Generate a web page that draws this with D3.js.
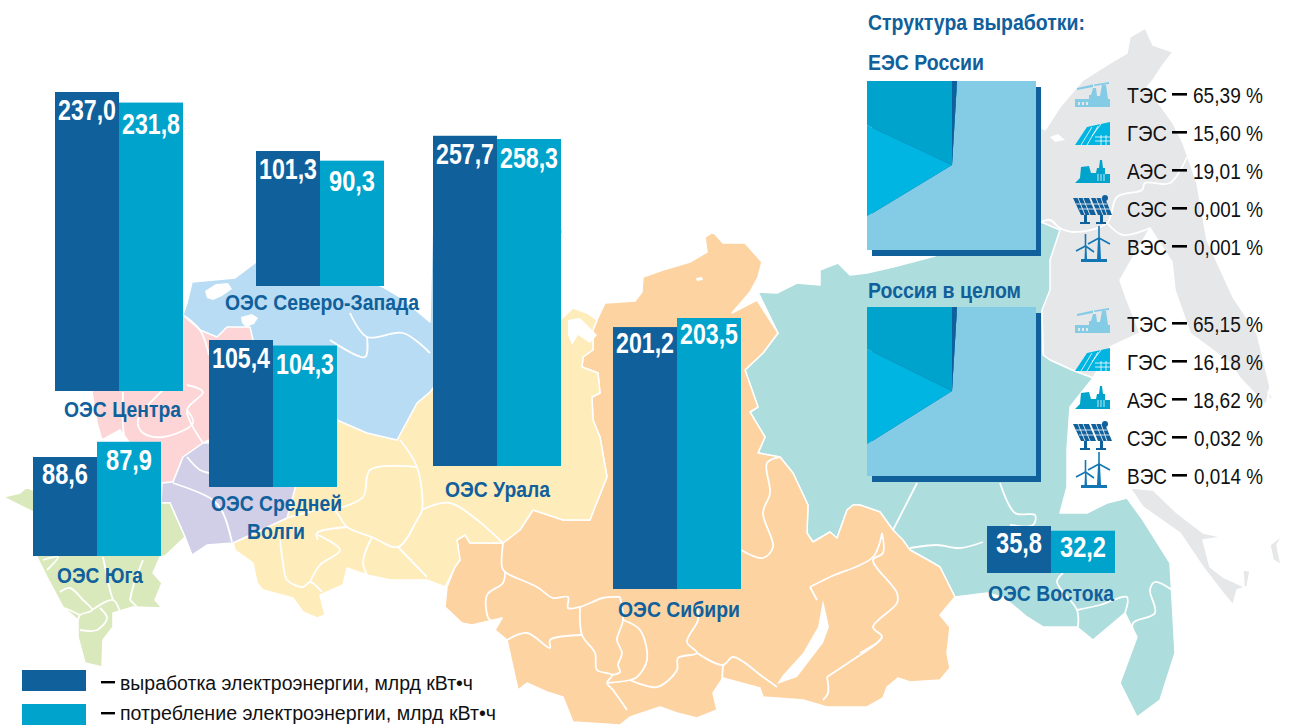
<!DOCTYPE html>
<html lang="ru">
<head>
<meta charset="utf-8">
<title>ОЭС России</title>
<script src="https://cdn.jsdelivr.net/npm/d3@7/dist/d3.min.js"></script>
<style>
  html, body { margin: 0; background: #fff; }
  svg { display: block; }
  text { font-family: "Liberation Sans", Arial, sans-serif; }
</style>
</head>
<body>
<div id="chart"></div>
<script>
// -- data ---------------------------------------------------------------
const regions     = ['ОЭС Центра', 'ОЭС Северо-Запада', 'ОЭС Средней Волги', 'ОЭС Урала', 'ОЭС Сибири', 'ОЭС Юга', 'ОЭС Востока'];
const generation  = [237.0, 101.3, 105.4, 257.7, 201.2, 88.6, 35.8];
const consumption = [231.8, 90.3, 104.3, 258.3, 203.5, 87.9, 32.2];

const plants      = ['ТЭС', 'ГЭС', 'АЭС', 'СЭС', 'ВЭС'];
const shareUES    = [65.39, 15.60, 19.01, 0.001, 0.001];
const shareRussia = [65.15, 16.18, 18.62, 0.032, 0.014];
const shareUESLabels    = ['65,39', '15,60', '19,01', '0,001', '0,001'];
const shareRussiaLabels = ['65,15', '16,18', '18,62', '0,032', '0,014'];

const seriesNames = ['выработка электроэнергии, млрд кВт•ч', 'потребление электроэнергии, млрд кВт•ч'];

// -- layout -------------------------------------------------------------
// Each bar pair sits on the map with its own baseline and scale. The drawn
// bars in the source are not strictly to scale, nudge = px added to the top.
const pairLayout = [
  { x: 55,  base: 391, top: 92,  nudge: [0, 4],   labelDy: [0, 3] },
  { x: 256, base: 286, top: 151, nudge: [0, -5],  labelDy: [0, 2] },
  { x: 209, base: 487, top: 340, nudge: [0, 4],   labelDy: [0, 0] },
  { x: 433, base: 466, top: 135, nudge: [0, 4],   labelDy: [0, 1] },
  { x: 613, base: 589, top: 318, nudge: [6, 0],   labelDy: [-2, -2] },
  { x: 33,  base: 556, top: 457, nudge: [0, -16], labelDy: [-1, 0] },
  { x: 987, base: 573, top: 526, nudge: [0, 0],   labelDy: [-1, -2] }
];
const barWidth = 64;

const regionLabels = [
  { lines: ['ОЭС Центра'], x: 64, y: 417, w: 117 },
  { lines: ['ОЭС Северо-Запада'], x: 225, y: 310, w: 194 },
  { lines: ['ОЭС Средней', 'Волги'], x: 211, y: 511, w: 131, w2: 58, x2: 247 },
  { lines: ['ОЭС Урала'], x: 445, y: 497, w: 105 },
  { lines: ['ОЭС Сибири'], x: 618, y: 617, w: 122 },
  { lines: ['ОЭС Юга'], x: 57, y: 583, w: 86 },
  { lines: ['ОЭС Востока'], x: 988, y: 601, w: 126 }
];

const colors = { gen: '#10609c', con: '#00a3cb' };
const sliceColors = ['#84cbe6', '#00b5e2', '#00a3cb', '#10609c', '#10609c'];
const iconColors  = ['#84cbe6', '#00b5e2', '#00a3cb', '#10609c', '#1276b5'];

// -- background map, traced by hand (decoration, not data) ---------------
const mapShapes = [
  { fill: '#e6e7e9', pts: [[1130,37],[1145,28],[1153,45],[1173,52],[1163,65],[1153,80],[1147,87],[1173,123],[1183,143],[1197,183],[1207,240],[1233,297],[1257,333],[1270,387],[1266,405],[1240,378],[1230,363],[1190,333],[1175,290],[1172,262],[1150,228],[1120,280],[1125,295],[1140,333],[1110,347],[1093,378],[1072,370],[1050,360],[1043,355],[1042,310],[1030,250],[1030,120],[1045,130],[1060,107],[1083,80],[1110,63],[1127,53]] },
  { fill: '#e6e7e9', pts: [[1130,488],[1153,490],[1177,513],[1203,533],[1222,537],[1203,540],[1210,567],[1223,577],[1245,587],[1237,590],[1233,605],[1223,593],[1203,567],[1180,533],[1143,507]] },
  { fill: '#e6e7e9', pts: [[1283,535],[1277,545],[1281,565],[1273,560],[1270,545]] },
  { fill: '#e6e7e9', pts: [[1243,570],[1250,571],[1247,587],[1244,587]] },
  { fill: '#e6e7e9', pts: [[1268,392],[1272,396],[1270,402]] },
  { fill: '#aedddd', pts: [[758,292],[777,293],[797,283],[820,285],[820,270],[838,263],[850,275],[867,273],[893,267],[935,256],[1000,200],[1041,222],[1060,230],[1050,260],[1050,290],[1042,310],[1043,355],[1050,360],[1072,370],[1093,378],[1070,407],[1067,450],[1067,487],[1060,513],[1087,513],[1107,503],[1127,498],[1143,520],[1170,563],[1175,653],[1160,700],[1137,717],[1120,683],[1137,637],[1125,613],[1093,640],[1077,627],[1043,627],[1027,617],[1003,597],[987,593],[955,597],[940,567],[928,560],[910,550],[893,530],[880,512],[860,505],[853,505],[847,510],[837,538],[830,532],[813,542],[807,533],[808,505],[793,473],[780,457],[758,453],[765,437],[750,412],[758,407],[745,370],[763,353],[778,333]] },
  { fill: '#fdd3a2', pts: [[605,303],[635,301],[642,292],[643,277],[663,270],[690,262],[707,252],[705,237],[713,232],[723,243],[745,243],[762,262],[758,277],[750,292],[732,313],[757,300],[778,333],[763,353],[745,370],[758,407],[750,412],[765,437],[758,453],[780,457],[793,473],[808,505],[807,533],[813,542],[830,532],[837,538],[847,510],[853,505],[860,505],[880,512],[893,530],[903,540],[910,550],[928,560],[940,567],[955,597],[940,615],[950,627],[947,653],[950,668],[940,680],[910,682],[898,678],[887,687],[883,698],[867,707],[827,707],[803,700],[763,697],[760,688],[723,678],[713,693],[717,710],[697,718],[677,713],[660,707],[630,717],[620,725],[573,722],[563,697],[547,692],[527,683],[518,690],[507,640],[495,630],[502,618],[472,625],[462,623],[445,607],[447,587],[455,567],[460,560],[457,540],[465,535],[470,543],[503,543],[520,530],[533,510],[563,520],[590,520],[595,507],[607,477],[600,437],[593,420],[592,397],[600,393],[598,373],[582,367],[583,357],[593,350],[593,330],[597,320]] },
  { fill: '#feecbb', pts: [[233,543],[235,550],[253,563],[257,583],[263,590],[293,598],[303,612],[317,618],[325,615],[320,595],[343,585],[347,568],[367,575],[390,580],[427,580],[445,587],[455,567],[460,560],[457,540],[465,535],[470,543],[503,543],[520,530],[533,510],[563,520],[590,520],[595,507],[607,477],[600,437],[593,420],[592,397],[600,393],[598,373],[582,367],[583,357],[593,350],[593,330],[597,320],[587,313],[573,308],[560,320],[500,300],[430,392],[417,403],[397,440],[367,433],[337,420],[300,470],[287,518]] },
  { fill: '#b8dcf3', pts: [[187,303],[192,282],[235,278],[256,262],[320,262],[383,287],[400,297],[430,322],[433,200],[558,215],[563,232],[540,280],[500,300],[430,392],[417,403],[397,440],[367,433],[337,420],[300,400],[209,355],[200,330],[183,315]] },
  { fill: '#fdd5d6', pts: [[183,315],[200,330],[217,337],[227,327],[250,327],[253,340],[300,400],[290,440],[209,440],[203,443],[183,457],[173,482],[162,483],[150,470],[120,430],[102,440],[97,423],[92,392],[100,340]] },
  { fill: '#d1cfe8', pts: [[162,483],[173,482],[183,457],[203,443],[290,440],[300,470],[287,518],[233,543],[207,545],[192,555],[185,537],[170,503],[161,503]] },
  { fill: '#dae9bc', pts: [[100,500],[161,503],[170,503],[185,537],[165,556],[160,557],[153,573],[162,583],[155,600],[162,608],[133,607],[113,613],[113,627],[103,640],[102,667],[85,663],[78,637],[78,620],[63,607],[47,577],[37,557],[33,512],[3,497],[20,493],[27,487],[8,480],[33,490]] }
];

const mapHoles = [
  [[823,600],[829,627],[823,643],[797,677],[777,684],[783,675],[803,653],[818,627]],
  [[568,320],[580,318],[597,335],[590,343],[578,335],[572,345],[568,335]],
  [[1050,137],[1058,134],[1065,140],[1055,142]],
  [[696,278],[702,277],[703,280],[697,281]],
  [[205,291],[216,284],[228,283],[232,289],[222,296],[213,300],[207,298]],
  [[241,317],[252,314],[258,318],[254,324],[246,327],[242,323]]
];

const mapBorders = [
  [[280,540],[283,563],[287,580],[303,587],[310,582],[322,592]],
  [[318,535],[340,550],[320,565],[310,582]],
  [[372,537],[363,562],[368,577]],
  [[398,547],[427,577]],
  [[400,440],[417,467],[422,510],[417,520],[398,547],[372,537],[347,527],[333,510],[287,518]],
  [[417,467],[370,470],[363,497],[333,510]],
  [[422,510],[450,503],[503,543]],
  [[347,527],[317,533],[318,540]],
  [[503,543],[502,567],[505,572],[537,587],[553,598],[568,597],[568,608],[580,607],[603,598],[620,597]],
  [[505,572],[503,583],[487,595],[490,620],[502,618]],
  [[580,607],[582,635],[595,653],[597,670],[612,675],[607,683],[613,690],[627,710]],
  [[582,635],[550,640],[550,648],[527,633],[507,640]],
  [[620,597],[623,620],[617,640],[622,653],[618,665],[620,672],[612,675]],
  [[623,620],[640,630],[647,660],[637,677],[630,680],[607,683]],
  [[630,680],[657,687],[677,670],[678,658],[697,653],[687,642],[698,620],[697,607]],
  [[697,653],[723,665],[733,657],[763,677],[777,687]],
  [[723,665],[722,680]],
  [[810,587],[830,577],[873,557],[882,533]],
  [[810,587],[817,600]],
  [[827,677],[857,657],[877,643],[882,637]],
  [[827,677],[828,693],[823,700]],
  [[741,550],[763,558],[773,547],[763,513],[770,493],[767,463],[780,457]],
  [[882,533],[883,553],[873,560],[897,593],[897,603],[873,627],[882,637],[860,653]],
  [[917,483],[893,530]],
  [[1000,483],[1015,513],[1035,515],[1033,525],[1010,525]],
  [[910,548],[937,545],[960,548],[983,542]],
  [[1063,573],[1057,582],[1077,610],[1078,627]],
  [[1077,610],[1100,605],[1127,597],[1125,613]],
  [[1172,590],[1155,582],[1150,590],[1155,613],[1133,623],[1135,637]],
  [[1041,222],[1050,220],[1060,228],[1073,232],[1107,223],[1117,197],[1142,190],[1145,183],[1170,183],[1187,157]],
  [[1107,223],[1123,235],[1150,228]],
  [[350,313],[367,337],[403,333],[430,353]],
  [[367,337],[365,357],[330,340]],
  [[183,315],[200,330],[209,355]],
  [[187,385],[203,392],[187,410],[203,443]],
  [[163,390],[138,420],[143,433],[163,437],[193,423],[187,410]],
  [[123,392],[123,427],[125,440]],
  [[173,483],[213,500],[223,513],[232,542]],
  [[187,457],[200,470],[209,473]],
  [[43,560],[58,557],[47,570]],
  [[60,592],[70,588],[83,600],[92,610],[80,615],[78,620]],
  [[65,608],[80,615]],
  [[92,610],[113,600],[120,612]],
  [[100,608],[107,618],[97,630],[80,630]],
  [[103,557],[110,590],[113,600]],
  [[130,600],[133,587],[143,560]],
  [[130,600],[137,607]]
];

// -- icons: local 36x36-ish paths per plant type -------------------------
const iconPaths = [
  // ТЭС
  { at: [1075, 82], fill: 'M0 17H14V13H16L18 6H21L22 14H25L27 3H31L33 17H35V25H0Z M2 6L18 2.5V5L2 8Z M19 2.5L34 0V2L19 4Z M3 20V23H5V20Z M7 20V23H9V20Z M11 20V23H13V20Z',
    white: [] },
  // ГЭС
  { at: [1075, 122], fill: 'M0 23L12 5L35 0V23Z',
    white: ['M6 23L17 5', 'M12 23L23 4', 'M17 14L26 2', 'M20 15H35', 'M20 19H35', 'M26 13V23', 'M31 13V23'] },
  // АЭС
  { at: [1075, 160], fill: 'M0 23L5 18L6 7L14 6L16 13H21L22 8H24L25 0H27L28 8H30V14H35V23Z',
    white: ['M23 14V21', 'M26 14V21', 'M29 14V21'] },
  // СЭС
  { at: [1073, 195], fill: 'M0 3H16L23 20H8Z M18 3H32L39 20H25Z M11 20H14V27H11Z M27 20H30V27H27Z M7 27H17V29H7Z M23 27H33V29H23Z',
    white: ['M5 3L12 20', 'M10 3L17 20', 'M3 9H19', 'M6 14H21', 'M23 3L30 20', 'M28 3L34 20', 'M20 9H34', 'M22 14H37'],
    sun: [32, 3, 3] },
  // ВЭС
  { at: [1075, 226], fill: 'M6 36H32V33H26L25 13L23 13L22 33H12L11.5 21H10L9.5 33H6Z',
    blades: [[24, 12, [[24, 0], [35, 18], [13, 18]]], [10.5, 20, [[10.5, 8], [19, 26], [1, 25]]]] }
];

// -- drawing ------------------------------------------------------------
const svg = d3.select('#chart').append('svg').attr('width', 1292).attr('height', 725);
const closedLine = d3.line().curve(d3.curveLinearClosed);
const openLine = d3.line().curve(d3.curveCatmullRom.alpha(0.5));

const mapG = svg.append('g');
mapG.selectAll('path.region').data(mapShapes).join('path')
  .attr('class', 'region')
  .attr('d', d => closedLine(d.pts))
  .attr('fill', d => d.fill)
  .attr('stroke', '#fff').attr('stroke-width', 1.5).attr('stroke-linejoin', 'round');
mapG.selectAll('path.hole').data(mapHoles).join('path')
  .attr('class', 'hole').attr('d', closedLine).attr('fill', '#fff');
mapG.selectAll('path.border').data(mapBorders).join('path')
  .attr('class', 'border').attr('d', openLine)
  .attr('fill', 'none').attr('stroke', '#fff').attr('stroke-width', 1.8);

// bars
const pairs = regions.map((name, i) => ({ name, gen: generation[i], con: consumption[i], ...pairLayout[i] }));
const fmt = v => v.toFixed(1).replace('.', ',');

const pairG = svg.selectAll('g.pair').data(pairs).join('g').attr('class', 'pair');
pairG.each(function (d) {
  const g = d3.select(this);
  const y = d3.scaleLinear().domain([0, Math.max(d.gen, d.con)]).range([d.base, d.top]);
  const xBand = d3.scaleBand().domain(['gen', 'con']).range([d.x, d.x + barWidth * 2]);
  const bars = [
    { key: 'gen', v: d.gen, nudge: d.nudge[0], dy: d.labelDy[0] },
    { key: 'con', v: d.con, nudge: d.nudge[1], dy: d.labelDy[1] }
  ];
  g.selectAll('rect').data(bars).join('rect')
    .attr('x', b => xBand(b.key))
    .attr('width', xBand.bandwidth())
    .attr('y', b => y(b.v) + b.nudge)
    .attr('height', b => d.base - y(b.v) - b.nudge)
    .attr('fill', b => colors[b.key]);
  g.selectAll('text').data(bars).join('text')
    .attr('x', b => xBand(b.key) + xBand.bandwidth() / 2)
    .attr('y', b => y(b.v) + b.nudge + 28 + b.dy)
    .attr('text-anchor', 'middle')
    .attr('font-size', 30).attr('font-weight', 700).attr('fill', '#fff')
    .attr('textLength', b => fmt(b.v).length > 4 ? 58 : 46).attr('lengthAdjust', 'spacingAndGlyphs')
    .text(b => fmt(b.v));
});

// region labels
const labelStyle = sel => sel
  .attr('font-weight', 700).attr('font-size', 22).attr('fill', '#10609c')
  .attr('lengthAdjust', 'spacingAndGlyphs');
regionLabels.forEach(l => {
  svg.append('text').attr('x', l.x).attr('y', l.y).attr('textLength', l.w).call(labelStyle).text(l.lines[0]);
  if (l.lines[1]) {
    svg.append('text').attr('x', l.x2).attr('y', l.y + 28).attr('textLength', l.w2).call(labelStyle).text(l.lines[1]);
  }
});

// legend
const legendY = d3.scalePoint().domain(seriesNames).range([670, 704]);
const legendKeys = ['gen', 'con'];
const legendWidths = [353, 376];
const legendTextY = [690, 720];
const legendDashY = [681, 712];
svg.selectAll('rect.legend-key').data(seriesNames).join('rect').attr('class', 'legend-key')
  .attr('x', 22).attr('y', d => legendY(d)).attr('width', 64).attr('height', 21)
  .attr('fill', (d, i) => colors[legendKeys[i]]);
svg.selectAll('rect.legend-dash').data(seriesNames).join('rect').attr('class', 'legend-dash')
  .attr('x', 101).attr('y', (d, i) => legendDashY[i]).attr('width', 14).attr('height', 2.4).attr('fill', '#000');
svg.selectAll('text.legend-text').data(seriesNames).join('text').attr('class', 'legend-text')
  .attr('x', 120).attr('y', (d, i) => legendTextY[i])
  .attr('font-size', 19.5).attr('fill', '#111')
  .attr('textLength', (d, i) => legendWidths[i]).attr('lengthAdjust', 'spacingAndGlyphs')
  .text(d => d);

// structure headings
const headings = [
  { t: 'Структура выработки:', y: 30, w: 217 },
  { t: 'ЕЭС России', y: 70, w: 116 },
  { t: 'Россия в целом', y: 298, w: 153 }
];
svg.selectAll('text.heading').data(headings).join('text').attr('class', 'heading')
  .attr('x', 868).attr('y', d => d.y).attr('textLength', d => d.w)
  .call(labelStyle).text(d => d.t);

// clipped pies
const sliverAngle = 0.06;   // the tiny СЭС + ВЭС shares are drawn wider than they are so they show
const pie = d3.pie().sort(null).startAngle(sliverAngle).endAngle(sliverAngle + 2 * Math.PI);
const arc = d3.arc().innerRadius(0).outerRadius(130);
const squareSize = 169;

function drawPie(shares, labels, x, y, rowDy, idx) {
  const clipId = 'square-' + idx;
  svg.append('rect').attr('x', x + 5).attr('y', y + 6).attr('width', squareSize).attr('height', squareSize).attr('fill', colors.gen);
  svg.append('clipPath').attr('id', clipId).append('rect')
    .attr('x', x).attr('y', y).attr('width', squareSize).attr('height', squareSize);
  const cx = x + 85, cy = y + 84;
  const g = svg.append('g').attr('clip-path', `url(#${clipId})`)
    .append('g').attr('transform', `translate(${cx},${cy})`);
  g.selectAll('path').data(pie(shares)).join('path')
    .attr('d', arc).attr('fill', (d, i) => sliceColors[i]);
  g.append('path')
    .attr('d', arc({ startAngle: 0, endAngle: sliverAngle }))
    .attr('fill', sliceColors[3]);

  // rows
  const row = d3.scalePoint().domain(plants).range([y + rowDy, y + rowDy + 152]);
  const rows = svg.selectAll('g.row' + idx).data(plants).join('g').attr('class', 'row' + idx)
    .attr('transform', p => `translate(0,${row(p)})`);
  rows.append('text').attr('x', 1127).attr('font-size', 22.5).attr('fill', '#111')
    .attr('textLength', 40).attr('lengthAdjust', 'spacingAndGlyphs').text(p => p);
  rows.append('rect').attr('x', 1172).attr('y', -10).attr('width', 15).attr('height', 2.6).attr('fill', '#000');
  rows.append('text').attr('x', 1263).attr('text-anchor', 'end').attr('font-size', 22.5).attr('fill', '#111')
    .attr('textLength', (p, i) => i < 3 ? 70 : 69).attr('lengthAdjust', 'spacingAndGlyphs')
    .text((p, i) => labels[i] + ' %');

  // icons
  iconPaths.forEach((ic, i) => {
    const ig = svg.append('g').attr('transform', `translate(${ic.at[0]},${ic.at[1] + (y - 81)})`);
    ig.append('path').attr('d', ic.fill).attr('fill', iconColors[i]).attr('fill-rule', 'evenodd');
    (ic.white || []).forEach(w => ig.append('path').attr('d', w).attr('stroke', '#fff').attr('stroke-width', 0.8).attr('fill', 'none'));
    if (ic.sun) ig.append('circle').attr('cx', ic.sun[0]).attr('cy', ic.sun[1]).attr('r', ic.sun[2]).attr('fill', iconColors[i]);
    (ic.blades || []).forEach(b => b[2].forEach(tip => {
      ig.append('line').attr('x1', b[0]).attr('y1', b[1]).attr('x2', tip[0]).attr('y2', tip[1])
        .attr('stroke', iconColors[i]).attr('stroke-width', 1.6);
    }));
  });
}
drawPie(shareUES, shareUESLabels, 867, 81, 22, 0);
drawPie(shareRussia, shareRussiaLabels, 867, 307, 25, 1);
</script>
</body>
</html>
